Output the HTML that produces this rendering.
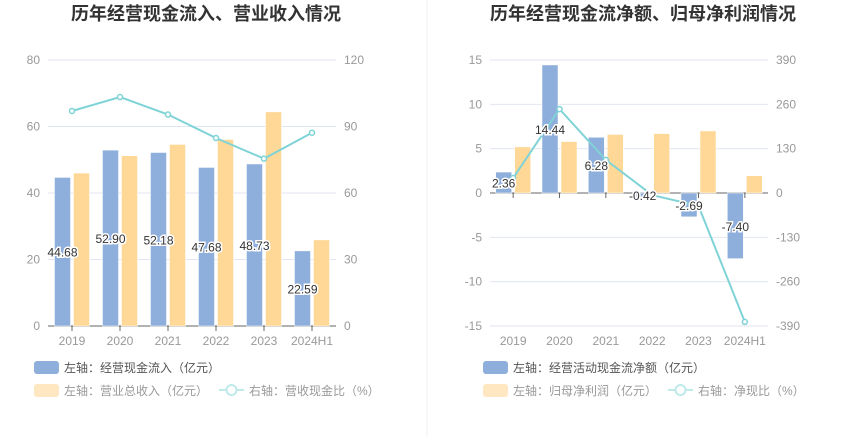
<!DOCTYPE html>
<html><head><meta charset="utf-8"><style>
body{margin:0;background:#fff;width:850px;height:437px;overflow:hidden;font-family:"Liberation Sans","Noto Sans CJK SC",sans-serif}
svg text{font-family:"Liberation Sans","Noto Sans CJK SC",sans-serif}
</style></head><body>
<svg id="s" width="850" height="437" xmlns="http://www.w3.org/2000/svg">
<line x1="427" y1="0" x2="427" y2="437" stroke="#eef0f4"/>
</svg>
<script>
const categories=["2019","2020","2021","2022","2023","2024H1"];
const leftBlue=[44.68,52.90,52.18,47.68,48.73,22.59];
const leftOrange=[46.0,51.2,54.6,56.1,64.4,25.9];
const leftLine=[97.0,103.3,95.4,84.8,75.5,87.2];
const leftTicksL=[0,20,40,60,80];
const leftTicksR=[0,30,60,90,120];
const rightBlue=[2.36,14.44,6.28,-0.42,-2.69,-7.40];
const rightOrange=[5.2,5.8,6.6,6.7,7.0,1.95];
const rightLine=[44,246,97,-6,-38,-378];
const rightTicksL=[-15,-10,-5,0,5,10,15];
const rightTicksR=[-390,-260,-130,0,130,260,390];
const NS="http://www.w3.org/2000/svg";
const svg=document.getElementById('s');
function mk(tag,attrs,parent,text){const e=document.createElementNS(NS,tag);for(const k in attrs)e.setAttribute(k,attrs[k]);if(text!==undefined)e.textContent=text;(parent||svg).appendChild(e);return e;}
function chart(o){
  const g=mk('g',{});
  
  
  const yL=v=>o.y0+(o.lmax-v)/(o.lmax-o.lmin)*(o.y1-o.y0);
  const yR=v=>o.y0+(o.rmax-v)/(o.rmax-o.rmin)*(o.y1-o.y0);
  const cw=(o.x1-o.x0)/categories.length;
  const xc=i=>o.x0+cw*(i+0.5);
  const t=mk('text',{x:o.titleX,y:20,'text-anchor':'middle','font-size':18,'font-weight':'bold',fill:'#333'},g,o.title);
  
  
  o.tl.forEach((v,i)=>{const y=yL(v);
    if(v!==0||o.lmin<0){const l=mk('line',{x1:o.x0,x2:o.x1,y1:y,y2:y,stroke:v===0?'#666':'#e0e6f1'},g);}
    const a=mk('text',{x:o.x0-8,y:y+4,'text-anchor':'end','font-size':12,fill:'#999'},g,String(v));
    
    const b=mk('text',{x:o.x1+8,y:yL(v)+4,'text-anchor':'start','font-size':12,fill:'#999'},g,String(o.tr[i]));
    
  });
  if(o.lmin>=0){const l=mk('line',{x1:o.x0,x2:o.x1,y1:o.y1,y2:o.y1,stroke:'#666'},g);}
  const z=yL(0);
  categories.forEach((c,i)=>{
    const tk=mk('line',{x1:xc(i),x2:xc(i),y1:z,y2:z+5,stroke:'#666'},g);
    
    const tx=mk('text',{x:xc(i),y:o.y1+19,'text-anchor':'middle','font-size':12,fill:'#999'},g,c);
    
    const bw=16,gap=3;
    const vb=o.blue[i],vo=o.orange[i];
    const rb=mk('rect',{x:xc(i)-bw-gap/2,y:Math.min(yL(vb),z),width:bw,height:Math.abs(yL(vb)-z),fill:'#8eaedb',stroke:'#fff','stroke-width':0.5},g);
    
    const ro=mk('rect',{x:xc(i)+gap/2,y:Math.min(yL(vo),z),width:bw,height:Math.abs(yL(vo)-z),fill:'#ffd898',stroke:'#fff','stroke-width':0.5},g);
    
  });
  let pts=o.line.map((v,i)=>xc(i)+','+yR(v)).join(' ');
  const pl=mk('polyline',{points:pts,fill:'none',stroke:'#7fd3d6','stroke-width':2},g);
  
  o.line.forEach((v,i)=>{const p=mk('circle',{cx:xc(i),cy:yR(v),r:2.5,fill:'#fff',stroke:'#7fd3d6','stroke-width':1.5},g);
    });
  categories.forEach((c,i)=>{const vb=o.blue[i];
    const lb=mk('text',{x:xc(i)-9.5,y:(yL(vb)+z)/2+5,'text-anchor':'middle','font-size':12,fill:'#333',stroke:'#fff','stroke-width':3,'paint-order':'stroke'},g,vb.toFixed(2));
    });
  const lx=o.legX;
  const s1=mk('rect',{x:lx,y:361,width:25,height:13,rx:3,fill:'#8eaedb'},g);
  const l1=mk('text',{x:lx+30,y:372,'font-size':12,fill:'#555'},g,o.leg[0]);
  const s2=mk('rect',{x:lx,y:384,width:25,height:13,rx:3,fill:'#ffe7c2'},g);
  const l2=mk('text',{x:lx+30,y:395,'font-size':12,fill:'#999'},g,o.leg[1]);
  const ll=mk('line',{x1:o.legX2,x2:o.legX2+25,y1:390,y2:390,stroke:'#bfe9ea','stroke-width':2},g);
  const lc=mk('circle',{cx:o.legX2+12.5,cy:390,r:5,fill:'#fff',stroke:'#bfe9ea','stroke-width':2},g);
  const l3=mk('text',{x:o.legX2+30,y:395,'font-size':12,fill:'#999'},g,o.leg[2]);
}
chart({name:'cash-inflow-chart',title:'历年经营现金流入、营业收入情况',titleX:206,x0:48,x1:336,y0:60,y1:326,lmin:0,lmax:80,rmin:0,rmax:120,tl:leftTicksL,tr:leftTicksR,blue:leftBlue,orange:leftOrange,line:leftLine,legX:34,legX2:219,leg:['左轴：经营现金流入（亿元）','左轴：营业总收入（亿元）','右轴：营收现金比（%）']});
chart({name:'net-cash-chart',title:'历年经营现金流净额、归母净利润情况',titleX:643,x0:490,x1:768,y0:60,y1:326,lmin:-15,lmax:15,rmin:-390,rmax:390,tl:rightTicksL,tr:rightTicksR,blue:rightBlue,orange:rightOrange,line:rightLine,legX:483,legX2:668,leg:['左轴：经营活动现金流净额（亿元）','左轴：归母净利润（亿元）','右轴：净现比（%）']});
</script>
</body></html>
